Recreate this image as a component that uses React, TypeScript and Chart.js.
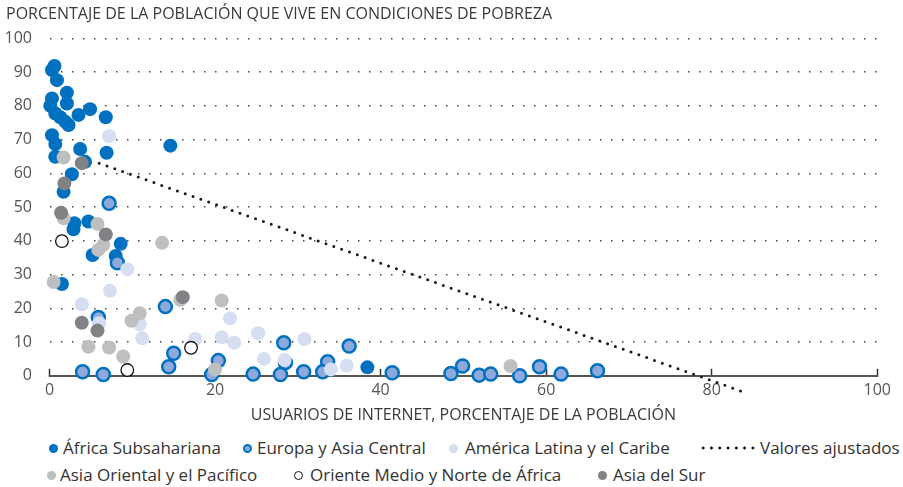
import React, { useEffect, useRef } from 'react';
import { Chart, registerables } from 'chart.js';

Chart.register(...registerables);

const FONT = "'Open Sans', sans-serif";

// Data: [internet users %, poverty %]
const africa: [number, number][] = [
  [0.6, 91.8], [0.3, 90.6], [0.9, 87.6], [2.1, 83.9], [0.3, 82.2], [2.1, 80.7], [0.1, 80],
  [0.7, 77.7], [1.3, 76.6], [1.9, 75.3], [2.3, 74.3], [3.5, 77.3], [4.9, 79], [6.8, 76.6],
  [0.3, 71.3], [0.7, 68.7], [0.7, 64.9], [3.7, 67.2], [6.9, 66.1], [14.6, 68.2], [4.3, 63.4],
  [2.7, 59.7], [1.7, 54.5], [3, 45.2], [2.9, 43.4], [4.7, 45.7], [8.6, 39.1], [5.2, 35.8],
  [8, 35.5], [1.5, 27.2], [38.4, 2.5],
];
const europe: [number, number][] = [
  [7.2, 51.1], [8.2, 33.5], [14, 20.5], [5.9, 17.3], [4, 1.2], [6.5, 0.4], [15, 6.7], [14.4, 2.7],
  [20.4, 4.5], [19.6, 0.4], [24.6, 0.5], [28.3, 9.8], [28.5, 3.9], [27.9, 0.4], [30.7, 1.2],
  [33.6, 4.2], [33, 1.2], [36.2, 8.8], [41.4, 0.9], [48.5, 0.7], [49.9, 2.9], [51.9, 0.2],
  [53.3, 0.5], [56.8, 0], [59.2, 2.7], [61.8, 0.5], [66.2, 1.5],
];
const latam: [number, number][] = [
  [7.2, 71], [9.4, 31.6], [7.3, 25.2], [3.9, 21.2], [6, 15.6], [10.9, 15.3], [11.2, 11.1],
  [17.6, 10.9], [21.8, 17], [20.8, 11.4], [22.3, 9.8], [25.2, 12.6], [25.9, 5], [28.4, 4.7],
  [30.8, 10.9], [34, 1.9], [35.9, 3],
];
const eastAsia: [number, number][] = [
  [1.7, 64.7], [1.7, 46.7], [5.8, 45], [6.5, 38.8], [5.9, 37.3], [13.6, 39.4], [0.5, 27.8],
  [10.9, 18.5], [9.9, 16.3], [4.7, 8.6], [7.2, 8.4], [8.9, 5.7], [15.8, 22.5], [20.8, 22.3],
  [20, 1.9], [55.7, 2.9],
];
const mena: [number, number][] = [[1.5, 39.9], [9.4, 1.7], [17.1, 8.3]];
const southAsia: [number, number][] = [
  [3.9, 63], [1.8, 57], [1.4, 48.3], [6.8, 41.9], [3.9, 15.7], [5.8, 13.4], [16.1, 23.3],
];
const fitX = [6, 83.5];
const fitY = [63, -4.5];

const yTitle = 'PORCENTAJE DE LA POBLACIÓN QUE VIVE EN CONDICIONES DE POBREZA';
const xTitle = 'USUARIOS DE INTERNET, PORCENTAJE DE LA POBLACIÓN';

const labels = {
  africa: 'África Subsahariana',
  europe: 'Europa y Asia Central',
  latam: 'América Latina y el Caribe',
  fit: 'Valores ajustados',
  eastAsia: 'Asia Oriental y el Pacífico',
  mena: 'Oriente Medio y Norte de África',
  southAsia: 'Asia del Sur',
};

const C = {
  africa: '#0070C0',
  europeFill: '#8EA9DB',
  latam: '#D6DEF1',
  eastAsia: '#BDBFC1',
  southAsia: '#808285',
  text: '#3a3a3a',
  tick: '#555555',
};

const toPts = (a: [number, number][]) => a.map(([x, y]) => ({ x, y }));

const CANVAS_W = 903;
const CANVAS_H = 430;

export default function App() {
  const ref = useRef<HTMLCanvasElement | null>(null);

  useEffect(() => {
    if (!ref.current) return;
    const pointBase = { pointRadius: 7, pointHoverRadius: 7, clip: false as const, borderWidth: 0 };
    const chart = new Chart(ref.current, {
      type: 'scatter',
      data: {
        datasets: [
          { label: labels.africa, data: toPts(africa), backgroundColor: C.africa, borderColor: C.africa, ...pointBase, order: 6 },
          { label: labels.europe, data: toPts(europe), backgroundColor: C.europeFill, borderColor: C.africa, ...pointBase, pointRadius: 6.5, pointHoverRadius: 6.5, borderWidth: 2.5, order: 5 },
          { label: labels.latam, data: toPts(latam), backgroundColor: C.latam, borderColor: C.latam, ...pointBase, order: 4 },
          { label: labels.eastAsia, data: toPts(eastAsia), backgroundColor: C.eastAsia, borderColor: C.eastAsia, ...pointBase, order: 3 },
          { label: labels.mena, data: toPts(mena), backgroundColor: '#ffffff', borderColor: '#111', ...pointBase, pointRadius: 6.3, pointHoverRadius: 6.3, borderWidth: 1.3, order: 2 },
          { label: labels.southAsia, data: toPts(southAsia), backgroundColor: C.southAsia, borderColor: C.southAsia, ...pointBase, order: 1 },
          {
            type: 'line',
            label: labels.fit,
            data: fitX.map((x, i) => ({ x, y: fitY[i] })),
            showLine: true,
            pointRadius: 0,
            borderColor: '#1a1a1a',
            borderWidth: 3,
            borderDash: [0, 8.3],
            borderCapStyle: 'round',
            clip: false,
            order: 0,
          } as any,
        ],
      },
      options: {
        animation: false,
        responsive: false,
        devicePixelRatio: 1,
        events: [],
        layout: { padding: { left: 6, right: 21, top: 0, bottom: 0 } },
        plugins: {
          legend: { display: false },
          tooltip: { enabled: false },
          title: {
            display: true,
            text: yTitle,
            align: 'start',
            color: C.text,
            font: { family: FONT, size: 16, weight: 'normal' },
            padding: { top: 5, bottom: 14.1 },
          },
        },
        scales: {
          x: {
            type: 'linear',
            min: 0,
            max: 100,
            ticks: { stepSize: 20, color: C.tick, font: { family: FONT, size: 16 }, padding: 12, maxRotation: 0 },
            grid: { drawOnChartArea: false, drawTicks: true, tickLength: -7, tickColor: '#333', tickWidth: 1.5 },
            border: { display: true, color: '#555', width: 2 },
            title: {
              display: true,
              text: xTitle,
              color: C.text,
              font: { family: FONT, size: 16 },
              padding: { top: 0, bottom: 5 },
            },
            afterFit: (s: any) => { s.height = CANVAS_H - 375.8; },
          },
          y: {
            min: 0,
            max: 100,
            ticks: { stepSize: 10, color: C.tick, font: { family: FONT, size: 16 }, padding: 17.5 },
            grid: {
              drawTicks: false,
              lineWidth: 1.5,
              color: (c: any) => (c.tick && c.tick.value === 0 ? 'rgba(0,0,0,0)' : '#444'),
            },
            border: { display: false, dash: [1.5, 9.5] },
            afterFit: (s: any) => { s.width = 43.5; },
          },
        },
      },
    });
    return () => chart.destroy();
  }, []);

  const textStyle: React.CSSProperties = {
    position: 'absolute',
    fontFamily: FONT,
    fontSize: 17,
    color: '#333',
    lineHeight: '20px',
    whiteSpace: 'nowrap',
  };
  const dot = (cx: number, cy: number, bg: string, border?: string, bw = 0, d = 9): React.CSSProperties => ({
    position: 'absolute',
    left: cx - d / 2,
    top: cy - d / 2,
    width: d,
    height: d,
    boxSizing: 'border-box',
    borderRadius: '50%',
    background: bg,
    border: border ? `${bw}px solid ${border}` : 'none',
  });

  const r1 = 448;
  const r2 = 475;

  return (
    <div style={{ position: 'absolute', left: 0, top: 0, width: 903, height: 487, background: '#fff' }}>
      <canvas ref={ref} width={CANVAS_W} height={CANVAS_H} style={{ position: 'absolute', left: 0, top: 0, width: CANVAS_W, height: CANVAS_H }} />
      <span style={dot(53, r1, C.africa)} />
      <span style={{ ...textStyle, left: 63, top: r1 - 10 }}>{labels.africa}</span>
      <span style={dot(247, r1, C.europeFill, C.africa, 2)} />
      <span style={{ ...textStyle, left: 257, top: r1 - 10 }}>{labels.europe}</span>
      <span style={dot(453, r1, C.latam)} />
      <span style={{ ...textStyle, left: 465, top: r1 - 10 }}>{labels.latam}</span>
      <span
        style={{
          position: 'absolute',
          left: 699,
          top: r1 - 2,
          width: 56,
          height: 4,
          background: 'radial-gradient(circle, #1a1a1a 1.3px, rgba(0,0,0,0) 1.8px) 0 0 / 8.3px 4px repeat-x',
        }}
      />
      <span style={{ ...textStyle, left: 760, top: r1 - 10 }}>{labels.fit}</span>
      <span style={dot(51, r2, C.eastAsia)} />
      <span style={{ ...textStyle, left: 60, top: r2 - 10 }}>{labels.eastAsia}</span>
      <span style={dot(298, r2, '#fff', '#111', 1)} />
      <span style={{ ...textStyle, left: 310, top: r2 - 10 }}>{labels.mena}</span>
      <span style={dot(602, r2, C.southAsia)} />
      <span style={{ ...textStyle, left: 613, top: r2 - 10 }}>{labels.southAsia}</span>
    </div>
  );
}
